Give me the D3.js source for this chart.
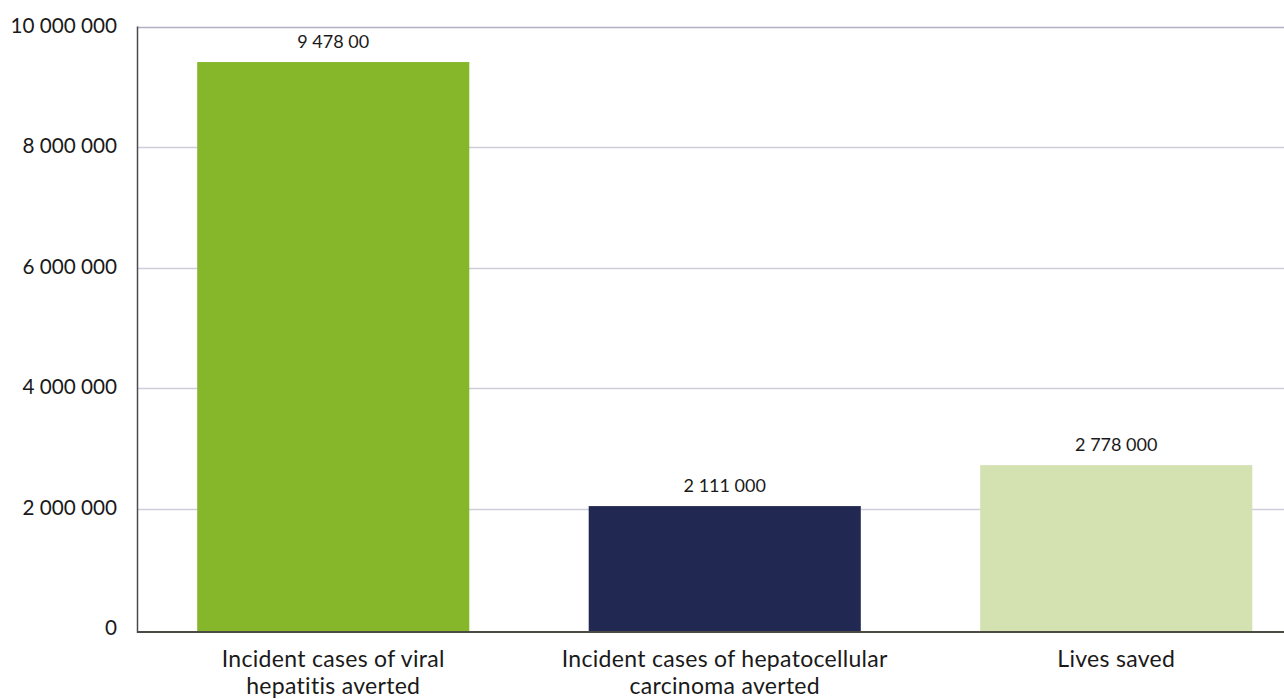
<!DOCTYPE html>
<html>
<head>
<meta charset="utf-8">
<script src="https://cdn.jsdelivr.net/npm/d3@7"></script>
<style>
    body { margin: 0; background: #fff; }
    svg text { font-family: Lato, "Noto Sans", sans-serif; fill: #1a1a1a; }
</style>
</head>
<body>
<svg id="chart" width="1284" height="699"></svg>
<script>
// categories, bar heights and printed labels
const categories = [
    ["Incident cases of viral", "hepatitis averted"],
    ["Incident cases of hepatocellular", "carcinoma averted"],
    ["Lives saved"]
];
const values = [9410000, 2040000, 2720000];
const valueLabels = ["9 478 00", "2 111 000", "2 778 000"];
const colors = ["#86b72a", "#212953", "#d4e1b1"];
const yTicks = [0, 2000000, 4000000, 6000000, 8000000, 10000000];

let width = 1284, height = 699;
let padding = {left: 137.5, right: -28, top: 26.5, bottom: 70};
let baseY = 632;

let svg = d3.select("#chart");

let x = d3.scaleBand()
    .domain(d3.range(values.length))
    .range([padding.left, width - padding.right])
    .paddingInner(0.305)
    .paddingOuter(0.1525);

let y = d3.scaleLinear()
    .domain([0, 10000000])
    .range([629, padding.top]);

let fmt = function(d) {
    return d3.format(",")(d).replace(/,/g, " ");
};

// gridlines
svg.append("g").selectAll("line.grid")
    .data(yTicks.filter(d => d > 0))
    .enter()
    .append("line")
    .attr("class", "grid")
    .attr("x1", padding.left)
    .attr("x2", width)
    .attr("y1", d => Math.round(y(d)) + 0.5)
    .attr("y2", d => Math.round(y(d)) + 0.5)
    .style("stroke", d => d == 10000000 ? "#b3b0c4" : "#cfcddc")
    .style("stroke-width", 1.5);

// y tick labels
svg.append("g").selectAll("text.ytick")
    .data(yTicks)
    .enter()
    .append("text")
    .attr("class", "ytick")
    .attr("x", 117)
    .attr("y", d => y(d) + 6)
    .attr("text-anchor", "end")
    .style("font-size", "20.7px")
    .text(fmt);

// bars
svg.append("g").selectAll("rect.bar")
    .data(values)
    .enter()
    .append("rect")
    .attr("class", "bar")
    .attr("x", (d, i) => x(i))
    .attr("y", d => y(d))
    .attr("width", x.bandwidth())
    .attr("height", d => baseY - y(d))
    .style("fill", (d, i) => colors[i]);

// value labels
svg.append("g").selectAll("text.val")
    .data(values)
    .enter()
    .append("text")
    .attr("class", "val")
    .attr("x", (d, i) => x(i) + x.bandwidth() / 2)
    .attr("y", d => y(d) - 14)
    .attr("text-anchor", "middle")
    .style("font-size", "18px")
    .text((d, i) => valueLabels[i]);

// axes lines
svg.append("line")
    .attr("x1", padding.left).attr("x2", width)
    .attr("y1", baseY).attr("y2", baseY)
    .style("stroke", "#4b4b44").style("stroke-width", 2);
svg.append("line")
    .attr("x1", padding.left).attr("x2", padding.left)
    .attr("y1", padding.top).attr("y2", baseY + 1)
    .style("stroke", "#4b4b4b").style("stroke-width", 1.5);

// category labels
let cats = svg.append("g").selectAll("text.cat")
    .data(categories)
    .enter()
    .append("text")
    .attr("class", "cat")
    .attr("x", (d, i) => x(i) + x.bandwidth() / 2)
    .attr("y", 667)
    .attr("text-anchor", "middle")
    .style("font-size", "23px")
    .style("letter-spacing", "0.3px");

cats.selectAll("tspan")
    .data(d => d)
    .enter()
    .append("tspan")
    .attr("x", function() { return d3.select(this.parentNode).attr("x"); })
    .attr("dy", (d, i) => i == 0 ? 0 : 27)
    .text(d => d);
</script>
</body>
</html>
